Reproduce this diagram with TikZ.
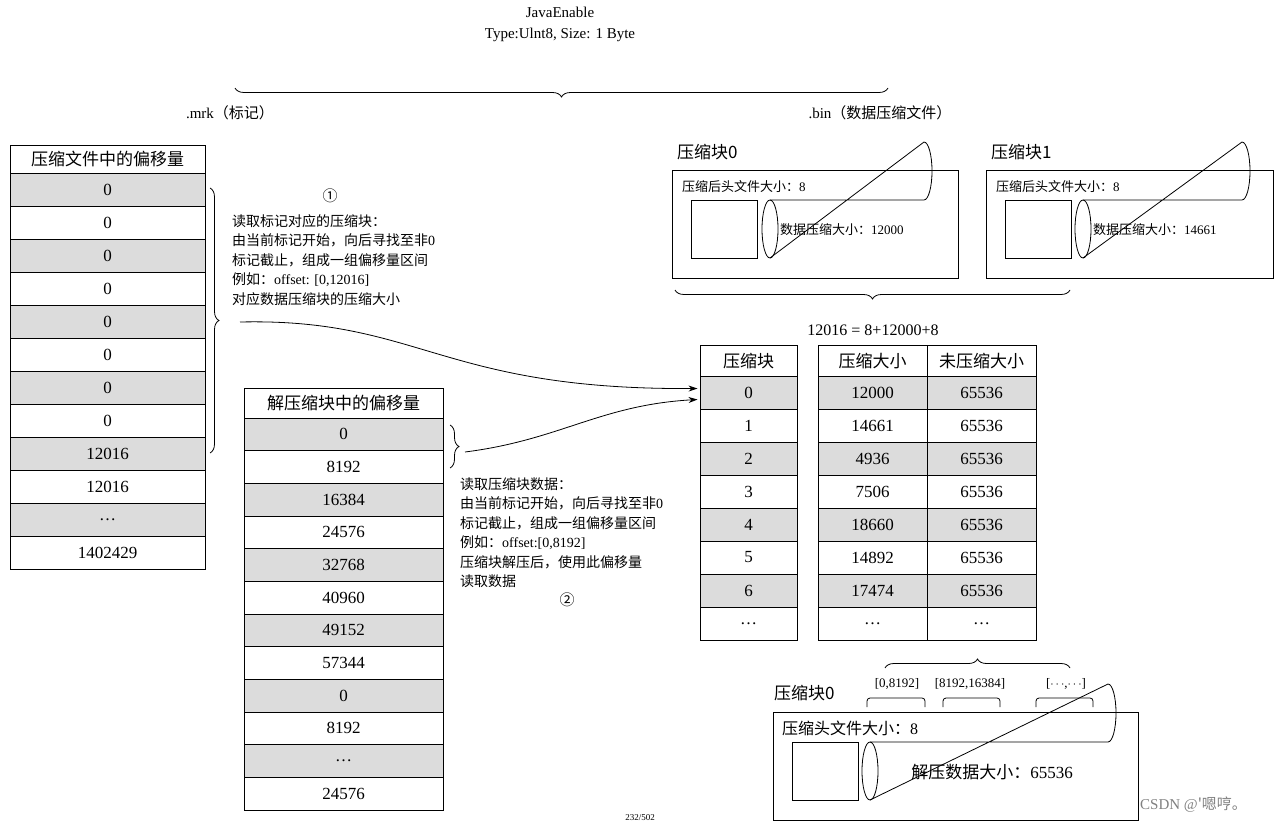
\documentclass[tikz,border=0pt]{standalone}
\usepackage{fontspec}
\setmainfont{Liberation Serif}
\newfontfamily\cjk{Noto Sans CJK SC}
\usetikzlibrary{decorations.pathreplacing,arrows.meta,calc}
\definecolor{cellgray}{RGB}{220,220,220}
\tikzset{
  cell/.style={draw,line width=0.8pt},
  txt/.style={inner sep=0pt,font=\fontsize{15}{18}\selectfont},
  ltxt/.style={txt,anchor=west},
  tab/.style={inner sep=0pt,font=\fontsize{17}{20}\selectfont},
  brc/.style={decorate,decoration={brace,amplitude=9pt},line width=0.8pt},
  arr/.style={-{Stealth[length=9pt,width=6pt]},line width=0.8pt},
}
\newcommand{\mycyl}[4]{% x0 y0 x1 y1
  \draw[line width=0.8pt] ({#1+8},#2) -- ({#3-8},#2) arc[start angle=90,end angle=-90,x radius=8,y radius={(#4-#2)/2}] -- ({#1+8},#4);
  \draw[line width=0.8pt] ({#1+8},{(#2+#4)/2}) ellipse[x radius=8,y radius={(#4-#2)/2}];
}
\begin{document}
\begin{tikzpicture}[x=1pt,y=-1pt]
\useasboundingbox (0,0) rectangle (1280,824);
% top
\node[txt] (je) at (560,12) {JavaEnable};
\node[txt] (jt) at (560,35) {Type:Ulnt8, Size: 1 Byte};
\draw[brc] (888,88) -- (235,88);
\node[txt] (mrk) at (230,113) {.mrk{\cjk（标记）}};
\node[txt] (bin) at (880,113) {.bin{\cjk（数据压缩文件）}};
% left table
\draw[cell] (10,145) rectangle (205,173);
\node[tab] (lh) at (107.5,159) {\cjk 压缩文件中的偏移量};
\foreach \t [count=\i from 0] in {0,0,0,0,0,0,0,0,12016,12016,\dots,1402429}{
  \pgfmathsetmacro\ya{173+\i*33}\pgfmathsetmacro\yb{\ya+33}
  \pgfmathparse{mod(\i,2)==0?1:0}
  \ifnum\pgfmathresult=1 \fill[cellgray] (10,\ya) rectangle (205,\yb);\fi
  \draw[cell] (10,\ya) rectangle (205,\yb);
  \node[tab] (l\i) at (107.5,{\ya+16.5}) {\t};
}
% middle table
\draw[cell] (244,388) rectangle (443,418);
\node[tab] (mh) at (343.5,403) {\cjk 解压缩块中的偏移量};
\foreach \t [count=\i from 0] in {0,8192,16384,24576,32768,40960,49152,57344,0,8192,\dots,24576}{
  \pgfmathsetmacro\ya{418+\i*32.67}\pgfmathsetmacro\yb{\ya+32.67}
  \pgfmathparse{mod(\i,2)==0?1:0}
  \ifnum\pgfmathresult=1 \fill[cellgray] (244,\ya) rectangle (443,\yb);\fi
  \draw[cell] (244,\ya) rectangle (443,\yb);
  \node[tab] (m\i) at (343.5,{\ya+16.3}) {\t};
}
% right tables
\draw[cell] (700,345) rectangle (797,376);
\node[tab] (rh) at (748.5,361) {\cjk 压缩块};
\draw[cell] (818,345) rectangle (927,376);
\draw[cell] (927,345) rectangle (1036,376);
\node[tab] (sh1) at (872.5,361) {\cjk 压缩大小};
\node[tab] (sh2) at (981.5,361) {\cjk 未压缩大小};
\foreach \a/\b [count=\i from 0] in {12000/65536,14661/65536,4936/65536,7506/65536,18660/65536,14892/65536,17474/65536,\dots/\dots}{
  \pgfmathsetmacro\ya{376+\i*33}\pgfmathsetmacro\yb{\ya+33}
  \pgfmathparse{(mod(\i,2)==0 && \i<7)?1:0}
  \ifnum\pgfmathresult=1 \fill[cellgray] (700,\ya) rectangle (797,\yb); \fill[cellgray] (818,\ya) rectangle (1036,\yb);\fi
  \draw[cell] (700,\ya) rectangle (797,\yb);
  \draw[cell] (818,\ya) rectangle (927,\yb);
  \draw[cell] (927,\ya) rectangle (1036,\yb);
  \ifnum\i<7 \node[tab] (r\i) at (748.5,{\ya+16.5}) {\i};\else \node[tab] (r\i) at (748.5,{\ya+16.5}) {\dots};\fi
  \node[tab] (s\i) at (872.5,{\ya+16.5}) {\a};
  \node[tab] (u\i) at (981.5,{\ya+16.5}) {\b};
}
% compressed blocks top right
\node[ltxt,font=\fontsize{17}{20}\selectfont] (cb0) at (677,152) {\cjk 压缩块0};
\node[ltxt,font=\fontsize{17}{20}\selectfont] (cb1) at (991,152) {\cjk 压缩块1};
\draw[cell] (672,170) rectangle (958,278);
\draw[cell] (986,170) rectangle (1273,278);
\node[ltxt,font=\fontsize{13}{15}\selectfont] (h0) at (682,187) {{\cjk 压缩后头文件大小：}8};
\node[ltxt,font=\fontsize{13}{15}\selectfont] (h1) at (996,187) {{\cjk 压缩后头文件大小：}8};
\draw[cell] (691,200) rectangle (757,258);
\draw[cell] (1005,200) rectangle (1071,258);
\mycyl{762}{200}{932}{258}
\mycyl{1075}{200}{1250}{258}
\node[ltxt,font=\fontsize{13}{15}\selectfont] (c0) at (780,230) {{\cjk 数据压缩大小：}12000};
\node[ltxt,font=\fontsize{13}{15}\selectfont] (c1) at (1093,230) {{\cjk 数据压缩大小：}14661};
\draw[brc] (1070,290) -- (675,290);
\node[txt,font=\fontsize{16}{18}\selectfont] (eq) at (873,330) {12016 = 8+12000+8};
% left brace and text
\draw[brc] (210,188) -- (210,453);
\node[txt] (n1) at (330,196) {\cjk ①};
\node[ltxt,align=left,anchor=north west,font=\fontsize{14}{19.5}\selectfont] (t1) at (232,214) {{\cjk 读取标记对应的压缩块：}\\{\cjk 由当前标记开始，向后寻找至非}0\\{\cjk 标记截止，组成一组偏移量区间}\\{\cjk 例如：}offset: [0,12016]\\{\cjk 对应数据压缩块的压缩大小}};
\coordinate (b1) at (240,322);
% middle brace
\draw[brc] (450,425) -- (450,468);
\coordinate (b2) at (465,452);
\node[ltxt,align=left,anchor=north west,font=\fontsize{14}{19.5}\selectfont] (t2) at (460,477) {{\cjk 读取压缩块数据：}\\{\cjk 由当前标记开始，向后寻找至非}0\\{\cjk 标记截止，组成一组偏移量区间}\\{\cjk 例如：}offset:[0,8192]\\{\cjk 压缩块解压后，使用此偏移量}\\{\cjk 读取数据}};
\node[txt] (n2) at (567,600) {\cjk ②};
\draw[arr] (b1) .. controls (420,318) and (440,390) .. ($(r0.center)+(-51,-4)$);
\draw[arr] (b2) .. controls (560,440) and (600,405) .. ($(r0.center)+(-51,7)$);
% bottom right
\draw[brc] (885,668) -- (1070,668);
\node[txt,font=\fontsize{13}{15}\selectfont] (o1) at (897,684) {[0,8192]};
\node[txt,font=\fontsize{13}{15}\selectfont] (o2) at (970,684) {[8192,16384]};
\node[txt,font=\fontsize{13}{15}\selectfont] (o3) at (1066,684) {[$\cdots$,$\cdots$]};
\foreach \xa/\xb in {867/925,943/1000,1036/1093}{
  \draw[line width=0.8pt,rounded corners=3pt] (\xa,707) -- (\xa,698) -- (\xb,698) -- (\xb,707);
}
\node[ltxt,font=\fontsize{17}{20}\selectfont] (cb2) at (774,693) {\cjk 压缩块0};
\draw[cell] (773,712) rectangle (1138,820);
\node[ltxt,font=\fontsize{16}{18}\selectfont] (h2) at (782,728) {{\cjk 压缩头文件大小：}8};
\draw[cell] (792,742) rectangle (858,800);
\mycyl{862}{742}{1116}{800}
\node[txt,font=\fontsize{17}{20}\selectfont] (c2) at (992,772) {{\cjk 解压数据大小：}65536};
\node[txt,font=\fontsize{9}{10}\selectfont] (pg) at (640,818) {232/502};
\node[ltxt,text=gray,font=\fontsize{15}{18}\selectfont] (wm) at (1140,805) {CSDN @{\cjk '嗯哼。}};
\end{tikzpicture}
\end{document}
